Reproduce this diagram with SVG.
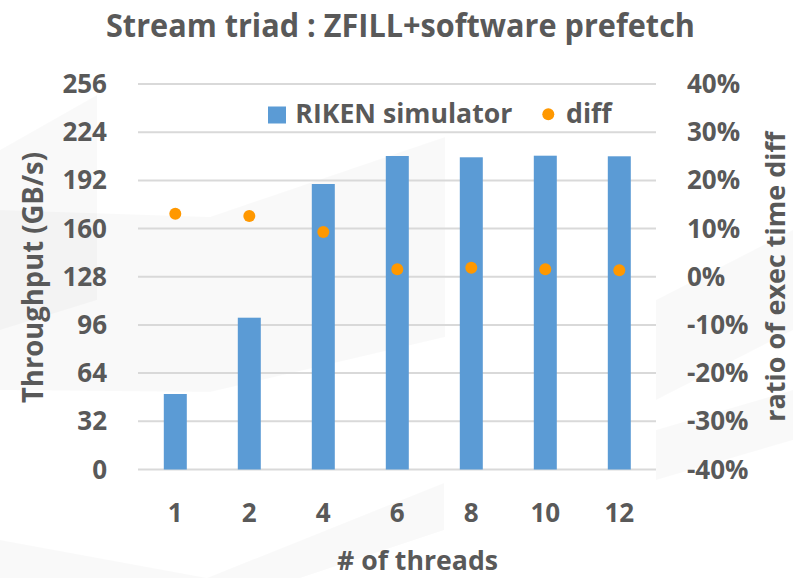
<svg xmlns="http://www.w3.org/2000/svg" width="793" height="578" viewBox="0 0 793 578">
  <style>
    .t { font-family: "Open Sans", "Liberation Sans", sans-serif; font-weight: bold; fill: #595959; }
    .tick { font-size: 26px; }
    .grid { stroke: #D9D9D9; stroke-width: 2; }
    .bar { fill: #5B9BD5; }
    .dot { fill: #FF9800; }
    .bg { fill: #000; fill-opacity: 0.022; }
  </style>
  <rect x="0" y="0" width="793" height="578" fill="#FFFFFF"/>
  <g id="background">
    <polygon class="bg" points="0,150 97,95 97,300 0,330"/>
    <polygon class="bg" points="0,210 210,217 445,137 445,337 210,392 0,390"/>
    <polygon class="bg" points="0,540 207,578 444,483 444,530 300,578 0,578"/>
    <polygon class="bg" points="656,300 793,230 793,330 656,400"/>
    <polygon class="bg" points="656,430 793,390 793,440 656,480"/>
  </g>
  <text id="title" class="t" x="400.5" y="36.5" font-size="32" text-anchor="middle" textLength="589" lengthAdjust="spacingAndGlyphs">Stream triad : ZFILL+software prefetch</text>
  <g id="gridlines">
    <line class="grid" x1="138" y1="84" x2="656" y2="84"/>
    <line class="grid" x1="138" y1="132.2" x2="656" y2="132.2"/>
    <line class="grid" x1="138" y1="180.4" x2="656" y2="180.4"/>
    <line class="grid" x1="138" y1="228.6" x2="656" y2="228.6"/>
    <line class="grid" x1="138" y1="276.75" x2="656" y2="276.75"/>
    <line class="grid" x1="138" y1="324.9" x2="656" y2="324.9"/>
    <line class="grid" x1="138" y1="373.1" x2="656" y2="373.1"/>
    <line class="grid" x1="138" y1="421.3" x2="656" y2="421.3"/>
    <line class="grid" x1="138" y1="469.5" x2="656" y2="469.5"/>
  </g>
  <g id="left-axis" class="t tick" text-anchor="end">
    <text x="107" y="93">256</text>
    <text x="107" y="141.2">224</text>
    <text x="107" y="189.4">192</text>
    <text x="107" y="237.6">160</text>
    <text x="107" y="285.7">128</text>
    <text x="107" y="333.9">96</text>
    <text x="107" y="382.1">64</text>
    <text x="107" y="430.3">32</text>
    <text x="107" y="478.5">0</text>
  </g>
  <g id="right-axis" class="t tick" text-anchor="start">
    <text x="687" y="93">40%</text>
    <text x="687" y="141.2">30%</text>
    <text x="687" y="189.4">20%</text>
    <text x="687" y="237.6">10%</text>
    <text x="687" y="285.7">0%</text>
    <text x="687" y="333.9">-10%</text>
    <text x="687" y="382.1">-20%</text>
    <text x="687" y="430.3">-30%</text>
    <text x="687" y="478.5">-40%</text>
  </g>
  <g id="x-axis" class="t tick" text-anchor="middle">
    <text x="175.3" y="521.5">1</text>
    <text x="249.3" y="521.5">2</text>
    <text x="323.3" y="521.5">4</text>
    <text x="397.3" y="521.5">6</text>
    <text x="471.3" y="521.5">8</text>
    <text x="545.3" y="521.5">10</text>
    <text x="619.3" y="521.5">12</text>
  </g>
  <text id="x-title" class="t" x="417.5" y="570" font-size="27" text-anchor="middle" textLength="161" lengthAdjust="spacingAndGlyphs"># of threads</text>
  <text id="y-title" class="t" font-size="28" text-anchor="middle" transform="translate(43 277.5) rotate(-90)" textLength="251" lengthAdjust="spacingAndGlyphs">Throughput (GB/s)</text>
  <text id="y2-title" class="t" font-size="27" text-anchor="middle" transform="translate(785 276.7) rotate(-90)" textLength="290" lengthAdjust="spacingAndGlyphs">ratio of exec time diff</text>
  <g id="bars">
    <rect class="bar" x="163.8" y="394" width="23" height="75.5"/>
    <rect class="bar" x="237.8" y="317.7" width="23" height="151.8"/>
    <rect class="bar" x="311.8" y="184" width="23" height="285.5"/>
    <rect class="bar" x="385.8" y="156" width="23" height="313.5"/>
    <rect class="bar" x="459.8" y="157.3" width="23" height="312.2"/>
    <rect class="bar" x="533.8" y="155.7" width="23" height="313.8"/>
    <rect class="bar" x="607.8" y="156.3" width="23" height="313.2"/>
  </g>
  <g id="diff-points">
    <circle class="dot" cx="175.3" cy="213.7" r="6"/>
    <circle class="dot" cx="249.3" cy="216" r="6"/>
    <circle class="dot" cx="323.3" cy="232" r="6"/>
    <circle class="dot" cx="397.3" cy="269.3" r="6"/>
    <circle class="dot" cx="471.3" cy="267.7" r="6"/>
    <circle class="dot" cx="545.3" cy="269.3" r="6"/>
    <circle class="dot" cx="619.3" cy="270.3" r="6"/>
  </g>
  <g id="legend">
    <rect class="bar" x="268" y="106.5" width="18" height="17"/>
    <text class="t" x="295.3" y="123.3" font-size="26" textLength="217" lengthAdjust="spacingAndGlyphs">RIKEN simulator</text>
    <circle class="dot" cx="548.3" cy="114.3" r="6"/>
    <text class="t" x="566" y="123.3" font-size="26" textLength="45.7" lengthAdjust="spacingAndGlyphs">diff</text>
  </g>
</svg>
